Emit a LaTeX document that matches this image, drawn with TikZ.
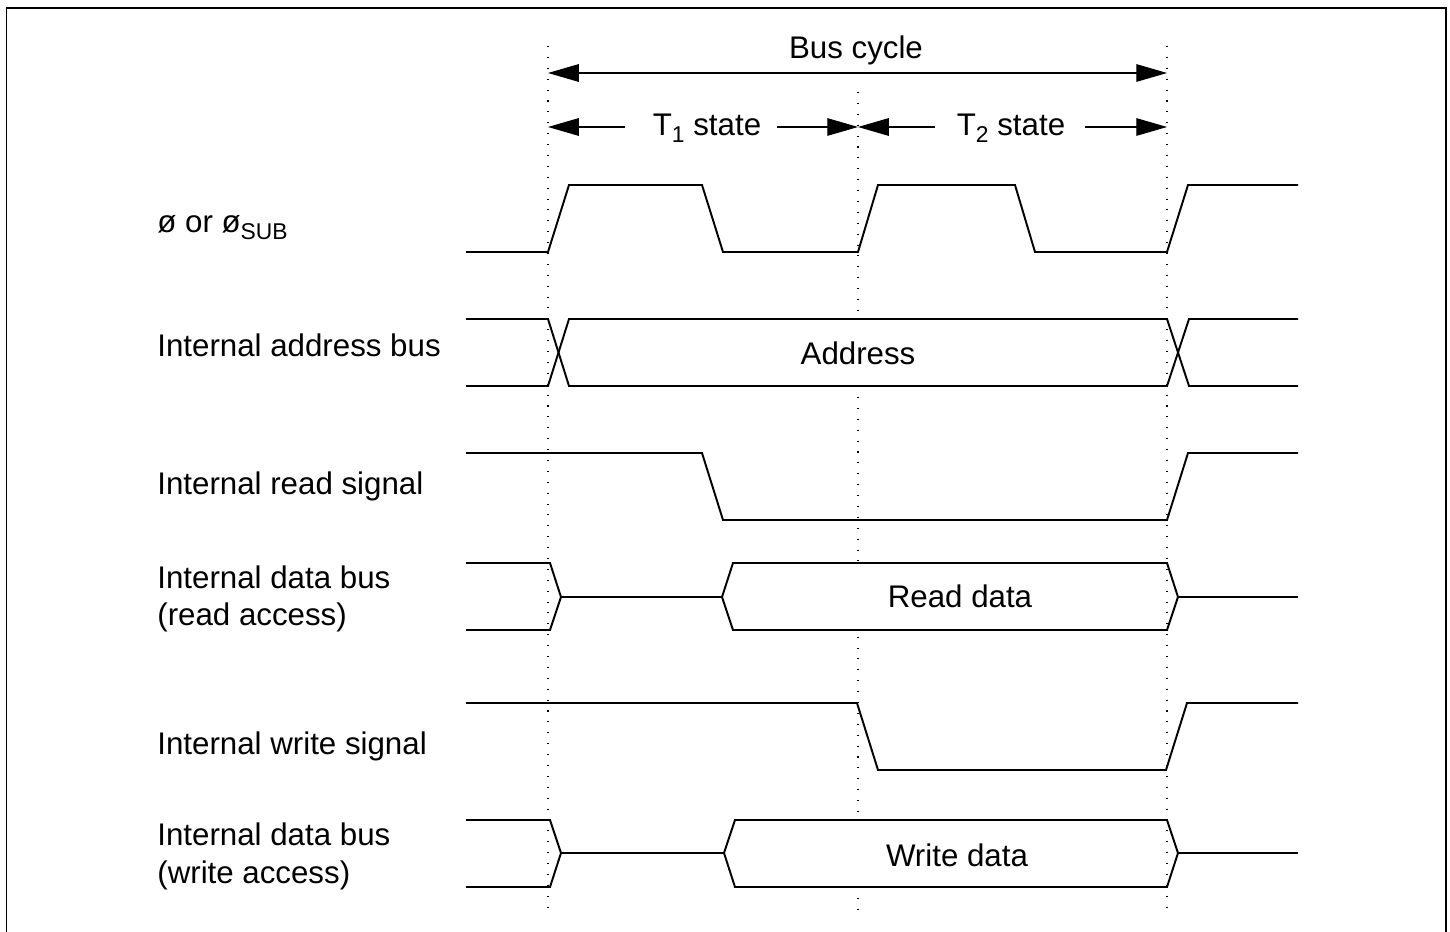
\documentclass[tikz,border=0pt]{standalone}
\usepackage{fontspec}
\setmainfont{Liberation Sans}
\usetikzlibrary{arrows.meta}
\newcommand{\subtxt}[1]{{\fontsize{13}{13}\selectfont\raisebox{-3.8pt}{#1}}}
\begin{document}
\begin{tikzpicture}[x=0.02cm,y=-0.02cm,
  sig/.style={line width=1.1pt,line join=miter},
  frame/.style={line width=1.1pt},
  guide/.style={line width=0.6pt,dash pattern=on 0.6pt off 5.6pt},
  dim/.style={line width=0.6pt,-{Triangle[length=17.5pt,width=10pt]}},
  blank/.style={fill=white,draw=none},
  lbl/.style={anchor=base west,inner sep=0pt,font=\fontsize{17.8}{21}\selectfont},
  txt/.style={anchor=base,inner sep=0pt,font=\fontsize{17.8}{21}\selectfont}]
\useasboundingbox (0,0) rectangle (1450,932);
% frame
\draw[frame] (6.5,940) -- (6.5,8) -- (1446,8) -- (1446,940);
% guide lines
\coordinate (gA1) at (548,46);  \coordinate (gA2) at (548,912);
\coordinate (gB1) at (858,92);  \coordinate (gB2) at (858,912);
\coordinate (gC1) at (1167,46); \coordinate (gC2) at (1167,912);
\draw[guide] (gA1) -- (gA2);
\draw[guide] (gB1) -- (gB2);
\draw[guide] (gC1) -- (gC2);
% dimension arrows
\node[txt] (bus) at (856,59) {Bus cycle};
\coordinate (bL) at (548,73); \coordinate (bM) at (858,73); \coordinate (bR) at (1167,73);
\draw[dim] (bM) -- (bL);
\draw[dim] (bM) -- (bR);
\node[txt] (t1) at (707,136) {T\subtxt{1} state};
\node[txt] (t2) at (1011,136) {T\subtxt{2} state};
\coordinate (aL) at (548,127); \coordinate (aM) at (858,127); \coordinate (aR) at (1167,127);
\coordinate (t1l) at (625,127); \coordinate (t1r) at (777,127);
\coordinate (t2l) at (935,127); \coordinate (t2r) at (1085,127);
\draw[dim] (t1l) -- (aL);
\draw[dim] (t1r) -- (aM);
\draw[dim] (t2l) -- (aM);
\draw[dim] (t2r) -- (aR);
% labels
\node[lbl] (l1) at (157,233) {ø or ø\subtxt{SUB}};
\node[lbl] (l2) at (157,357) {Internal address bus};
\node[lbl] (l3) at (157,494) {Internal read signal};
\node[lbl] (l4) at (157,588) {Internal data bus};
\node[lbl] (l4b) at (157,625) {(read access)};
\node[lbl] (l5) at (157,754) {Internal write signal};
\node[lbl] (l6) at (157,845) {Internal data bus};
\node[lbl] (l6b) at (157,883) {(write access)};
% clock
\draw[sig] (466,252) -- (548,252) -- (569,185) -- (702,185) -- (723,252) -- (858,252) -- (878,185) -- (1015,185) -- (1035,252) -- (1167,252) -- (1188,185) -- (1298,185);
% address bus
\fill[blank] (562,320) rectangle (1162,385);
\draw[sig] (466,319) -- (548,319) -- (569,386) -- (1167,386) -- (1189,319) -- (1298,319);
\draw[sig] (466,386) -- (548,386) -- (569,319) -- (1167,319) -- (1189,386) -- (1298,386);
\node[txt] (addr) at (858,365) {Address};
% read signal
\draw[sig] (466,453) -- (702,453) -- (723,520) -- (1167,520) -- (1188,453) -- (1298,453);
% read data bus
\fill[blank] (726,564) rectangle (1162,629);
\draw[sig] (466,563) -- (550,563) -- (561,597) -- (550,630) -- (466,630);
\draw[sig] (561,597) -- (722,597);
\draw[sig] (722,597) -- (733,563) -- (1167,563) -- (1178,597) -- (1167,630) -- (733,630) -- cycle;
\draw[sig] (1178,597) -- (1298,597);
\node[txt] (rd) at (960,607) {Read data};
% write signal
\draw[sig] (466,703) -- (857,703) -- (878,770) -- (1166,770) -- (1187,703) -- (1298,703);
% write data bus
\fill[blank] (728,821) rectangle (1162,886);
\draw[sig] (466,820) -- (550,820) -- (561,853) -- (550,887) -- (466,887);
\draw[sig] (561,853) -- (724,853);
\draw[sig] (724,853) -- (735,820) -- (1167,820) -- (1178,853) -- (1167,887) -- (735,887) -- cycle;
\draw[sig] (1178,853) -- (1298,853);
\node[txt] (wd) at (957,866) {Write data};
\end{tikzpicture}
\end{document}
